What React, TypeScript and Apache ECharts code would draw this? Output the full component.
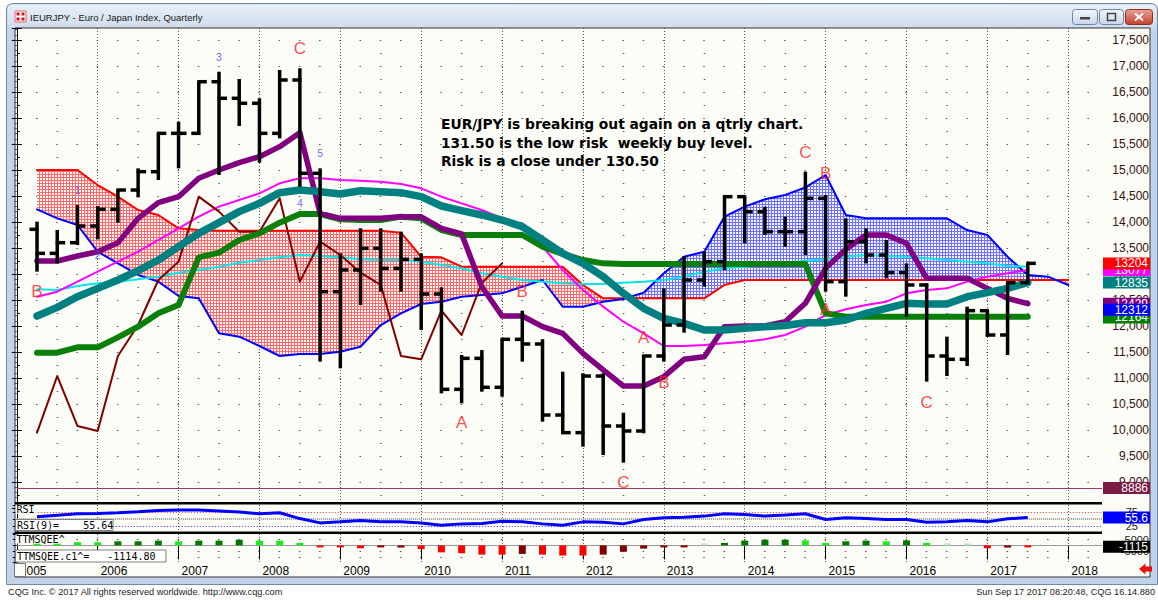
import React, { useEffect, useRef } from "react";
import * as echarts from "echarts";

// ---------- data ----------
const quarters = [
  "2005Q2","2005Q3","2005Q4",
  "2006Q1","2006Q2","2006Q3","2006Q4",
  "2007Q1","2007Q2","2007Q3","2007Q4",
  "2008Q1","2008Q2","2008Q3","2008Q4",
  "2009Q1","2009Q2","2009Q3","2009Q4",
  "2010Q1","2010Q2","2010Q3","2010Q4",
  "2011Q1","2011Q2","2011Q3","2011Q4",
  "2012Q1","2012Q2","2012Q3","2012Q4",
  "2013Q1","2013Q2","2013Q3","2013Q4",
  "2014Q1","2014Q2","2014Q3","2014Q4",
  "2015Q1","2015Q2","2015Q3","2015Q4",
  "2016Q1","2016Q2","2016Q3","2016Q4",
  "2017Q1","2017Q2","2017Q3","2017Q4",
  "2018Q1",
];
const yearLabels = ["2005","2006","2007","2008","2009","2010","2011","2012","2013","2014","2015","2016","2017","2018"];

const opens = [13859,13397,13602,13923,14243,14615,14968,15705,15705,16698,16379,16283,15705,16731,14936,12660,13077,13493,13109,13282,12615,10782,11378,10821,11744,11654,10288,9949,11038,10077,9981,11423,12019,12885,13237,14487,14199,13814,13814,14455,12853,13622,13365,13026,12789,11423,11359,12295,11827,12833];
const highs = [14006,13846,14327,14308,14628,15032,15705,15929,16698,16890,16750,16379,16923,16956,15032,13397,13878,13878,13814,13397,12744,11442,11538,11744,12295,11744,11122,11090,11090,10333,11442,12724,13346,13429,14519,14487,14295,14103,14968,14519,14070,13878,13654,13205,12821,11795,12372,12308,12833,13205];
const lows = [13045,13205,13558,13667,13987,14474,14808,15032,15673,14904,15846,15140,15609,14679,11314,11186,12404,12660,12660,11923,10705,10513,10737,10641,11314,10160,9936,9680,9519,9372,9936,11314,11872,12756,13077,13590,13750,13526,13365,12660,12564,13205,12917,12180,10930,11038,11231,11795,11442,12833];
const closes = [13397,13602,13923,14243,14615,14968,15705,15705,16698,16379,16283,15705,16731,14936,12660,13077,13493,13109,13282,12615,10782,11378,10821,11744,11654,10288,9949,11038,10077,9981,11423,12019,12885,13237,14487,14199,13814,13814,14455,12853,13622,13365,13026,12789,11423,11359,12295,11827,12833,13204];

const spanRed = [15000,15000,15000,14711,14487,14231,14135,13878,13846,13833,13833,13833,13833,13833,13833,13833,13833,13833,13795,13333,13320,13141,13141,13141,13141,13141,13141,12788,12532,12532,12532,12532,12532,12532,12788,12885,12885,12885,12885,12885,12885,12885,12885,12885,12885,12885,12885,12885,12885,12885,12885,12885];
const spanBlue = [14243,14070,13942,13429,13205,12981,12853,12577,12532,11859,11795,11615,11423,11461,11461,11506,11602,12019,12244,12423,12468,12564,12596,12628,12756,12885,12372,12372,12468,12519,12641,13013,13333,13429,14103,14295,14436,14519,14667,14904,14135,14070,14070,14070,14070,14070,13846,13750,13333,12981,12949,12788];
const cyanAvg = [12705,12692,12769,12821,12853,12897,12949,13026,13077,13141,13218,13269,13320,13365,13346,13320,13282,13269,13275,13237,13173,13109,13013,12949,12885,12853,12821,12808,12808,12833,12853,12885,12949,13045,13109,13141,13173,13218,13256,13282,13333,13365,13346,13333,13301,13269,13237,13205,13154,13141];
const magentaAvg = [12564,12660,12853,13045,13237,13429,13654,13878,14103,14295,14423,14551,14744,14840,14840,14808,14795,14776,14730,14648,14487,14359,14231,14070,13878,13526,13077,12692,12372,12083,11859,11615,11615,11634,11667,11699,11744,11827,11987,12212,12321,12404,12468,12628,12692,12724,12853,12949,13013,13077];
const purpleAvg = [13250,13250,13346,13429,13602,14070,14372,14487,14840,15000,15141,15256,15449,15718,14167,14070,14070,14070,14100,14100,13878,13769,12756,12192,12192,11987,11859,11474,11154,10846,10846,11026,11359,11410,11987,12000,12000,12083,12436,13109,13474,13750,13750,13590,12917,12917,12917,12724,12532,12429];
const tealAvg = [12192,12359,12564,12724,12885,13064,13269,13526,13782,13987,14199,14359,14564,14615,14583,14538,14602,14583,14564,14487,14308,14218,14135,14038,13910,13654,13397,13205,12949,12628,12340,12147,12051,11923,11923,11955,11987,12010,12064,12064,12115,12244,12340,12436,12423,12423,12564,12641,12724,12835];
const greenBase = [11487,11487,11590,11590,11782,11987,12244,12404,13320,13410,13654,13782,13987,14154,14154,14051,14038,14038,14103,14070,13846,13750,13750,13750,13750,13526,13385,13269,13205,13192,13192,13192,13192,13192,13192,13192,13192,13192,13192,12244,12180,12180,12180,12180,12180,12180,12180,12180,12180,12180];
const laggingSpan = [9949,11038,10077,9981,11423,12019,12885,13237,14487,14199,13814,13814,14455,12853,13622,13365,13026,12789,11423,11359,12295,11827,12833,13204];
const supportLevel = 8886;

const rsi9 = [58.2,64.2,69,70,72.5,76,80.8,82,82,78.5,75,69,72.5,52,36.8,40.4,45,40.4,40.4,36.8,28.5,33.3,34.5,42.8,40.4,33.3,28.5,40.4,39.2,33.3,48.8,54.8,57.1,60.7,69,66.7,60.7,64.3,69,48.8,54.8,52.4,48.8,48.8,39.2,40.4,45.2,40.4,51.2,55.6];
const rsiLevels = [75, 50, 25];

const ttmValues = [1400,1400,2800,2800,3600,3600,4200,3600,4200,4200,5000,4200,4200,2200,-900,-1400,-2500,-1700,-1900,-3300,-6100,-6900,-8100,-8100,-7500,-8100,-8900,-8900,-8100,-5600,-2800,-1400,-800,600,2200,4200,5000,5000,4400,2200,3600,4200,3600,4400,2200,800,800,-2500,-1900,-1115];
const ttmShade = ["lg","lg","lg","lg","dg","dg","dg","lg","dg","dg","dg","lg","lg","lg","r","r","r","dr","dr","r","r","r","r","r","dr","r","r","r","dr","dr","dr","dr","dr","pg","dg","dg","dg","dg","lg","lg","dg","dg","lg","dg","lg","pg","pg","r","dr","r"];

const waveNumbers: [string, number, string][] = [
  ["2005Q4", 14615, "1"], ["2006Q1", 13365, "2"], ["2007Q3", 17173, "3"], ["2008Q3", 14365, "4"], ["2008Q4", 15327, "5"],
];
const waveLetters: [string, number, string][] = [
  ["2005Q2", 12654, "B"], ["2008Q3", 17346, "C"], ["2010Q3", 10135, "A"], ["2011Q2", 12654, "B"],
  ["2012Q3", 9000, "C"], ["2012Q4", 11788, "A"], ["2013Q1", 10923, "B"], ["2014Q4", 15327, "C"],
  ["2015Q1", 14942, "B"], ["2015Q1", 12308, "A"], ["2016Q2", 10538, "C"],
];
const lastValueTags: [string, number, string][] = [
  ["magenta", 13077, "13077"], ["red", 13204, "13204"], ["teal", 12835, "12835"], ["purple", 12429, "12429"],
  ["green", 12164, "12164"], ["blue", 12312, "12312"], ["level", 8886, "8886"], ["rsi", 55.6, "55.6"], ["ttm", -1115, "-1115"],
];
const noteLines = [
  "EUR/JPY is breaking out again on a qtrly chart.",
  "131.50 is the low risk  weekly buy level.",
  "Risk is a close under 130.50",
];

// ---------- helpers ----------
const qPos = (label: string) => (Number(label.slice(0, 4)) - 2005) * 4 + Number(label.slice(5)) - 1;
const pairs = (vals: number[]) => vals.map((v, i) => [qPos(quarters[i]), v]);

const FONT = '"Liberation Sans", Arial, sans-serif';
const PLOT_L = 16.8;
const PLOT_W = 1102 - 16.8;
const X_MAX = 53.67;
const BG = "#fdfdf8";

const shadeColor: Record<string, string> = { lg: "#1ee81e", dg: "#007800", r: "#ff0000", dr: "#800000", pg: "#b8f0b8" };
const tagColor: Record<string, string> = {
  magenta: "#ff00ff", red: "#ff0000", teal: "#008080", purple: "#800080", green: "#008000",
  blue: "#0000ff", level: "#7d1a45", rsi: "#0000ff", ttm: "#000000",
};

function makePattern(line: string, cell: string) {
  const c = document.createElement("canvas");
  c.width = 3; c.height = 3;
  const g = c.getContext("2d")!;
  g.fillStyle = cell; g.fillRect(0, 0, 3, 3);
  g.fillStyle = line; g.fillRect(0, 0, 3, 1); g.fillRect(0, 0, 1, 3);
  return { image: c.toDataURL(), repeat: "repeat", imageWidth: 3, imageHeight: 3 };
}

function xAxisFor(grid: number, bottom: boolean) {
  return {
    type: "value", gridIndex: grid, min: 0, max: X_MAX, interval: 4,
    axisLine: { show: bottom, lineStyle: { color: "#000", width: 1 } },
    axisTick: { show: bottom, length: 14, lineStyle: { color: "#000" } },
    axisLabel: {
      show: bottom, showMaxLabel: false,
      formatter: (v: number) => (Math.abs(v / 4 - Math.round(v / 4)) < 1e-6 ? yearLabels[Math.round(v / 4)] ?? "" : ""),
      align: "left", padding: [0, 0, 0, 3], margin: 2, fontSize: 12, color: "#000", fontFamily: FONT,
    },
    splitLine: { show: true, showMinLine: false, showMaxLine: false, lineStyle: { type: [1, 2], color: "#555", width: 1 } },
  };
}

function buildOption(redPat: any, bluePat: any) {
  const cloudRender = (_p: any, api: any) => {
    const pts: number[][] = [];
    for (let i = 0; i < spanRed.length; i++) {
      const q = qPos(quarters[i]);
      const r = spanRed[i], b = spanBlue[i];
      if (i > 0) {
        const pq = qPos(quarters[i - 1]);
        const pr = spanRed[i - 1], pb = spanBlue[i - 1];
        const d0 = pr - pb, d1 = r - b;
        if (d0 * d1 < 0) {
          const t = d0 / (d0 - d1);
          pts.push([pq + t * (q - pq), pr + t * (r - pr), pb + t * (b - pb)]);
        }
      }
      pts.push([q, r, b]);
    }
    const low = pts.map((p) => api.coord([p[0], Math.min(p[1], p[2])])).reverse();
    const redTop = pts.map((p) => api.coord([p[0], p[1]]));
    const blueTop = pts.map((p) => api.coord([p[0], p[2]]));
    return {
      type: "group",
      children: [
        { type: "polygon", shape: { points: redTop.concat(low) }, style: { fill: redPat, stroke: null } },
        { type: "polygon", shape: { points: blueTop.concat(low) }, style: { fill: bluePat, stroke: null } },
      ],
    };
  };

  const ohlcRender = (_p: any, api: any) => {
    const q = api.value(0);
    const o = api.coord([q, api.value(1)]);
    const h = api.coord([q, api.value(2)]);
    const l = api.coord([q, api.value(3)]);
    const c = api.coord([q, api.value(4)]);
    const st = { stroke: "#000", lineWidth: 3.5 };
    return {
      type: "group",
      children: [
        { type: "line", shape: { x1: h[0], y1: h[1], x2: l[0], y2: l[1] }, style: st },
        { type: "line", shape: { x1: o[0] - 7.5, y1: o[1], x2: o[0] + 1.5, y2: o[1] }, style: st },
        { type: "line", shape: { x1: c[0] - 1.5, y1: c[1], x2: c[0] + 8, y2: c[1] }, style: st },
      ],
    };
  };

  const line = (name: string, vals: number[], color: string, width: number, z: number, extra: any = {}) => ({
    type: "line", name, xAxisIndex: 0, yAxisIndex: 0, data: pairs(vals), symbol: "none", showSymbol: false,
    lineStyle: { color, width, cap: "round", join: "round" }, z, silent: true, ...extra,
  });

  return {
    animation: false,
    textStyle: { fontFamily: FONT },
    grid: [
      { left: PLOT_L, top: 28, width: PLOT_W, height: 480, outerBoundsMode: "none" },
      { left: PLOT_L, top: 505, width: PLOT_W, height: 28.3, outerBoundsMode: "none" },
      { left: PLOT_L, top: 534, width: PLOT_W, height: 28.5, outerBoundsMode: "none" },
    ],
    xAxis: [xAxisFor(0, false), xAxisFor(1, false), xAxisFor(2, true)],
    yAxis: [
      {
        type: "value", gridIndex: 0, position: "right", min: 8500, max: 17730.8, interval: 500,
        axisLine: { show: true, lineStyle: { color: "#000", width: 1 } },
        axisTick: { show: true, inside: true, length: 5, lineStyle: { color: "#000" } },
        minorTick: { show: true, splitNumber: 5, length: 2, lineStyle: { color: "#444" } },
        axisLabel: { showMinLabel: false, showMaxLabel: false, align: "right", margin: 47, fontSize: 12, color: "#3a1010", fontFamily: FONT },
        splitLine: { show: true, showMinLine: false, showMaxLine: false, lineStyle: { type: [1.5, 18.72], dashOffset: 0.75, color: "#555", width: 1 } },
      },
      {
        type: "value", gridIndex: 0, position: "left", min: 8500, max: 17730.8, interval: 500,
        axisLine: { show: false },
        axisTick: { show: true, inside: true, length: 5, lineStyle: { color: "#000" } },
        minorTick: { show: true, splitNumber: 2, length: 3, lineStyle: { color: "#000" } },
        axisLabel: { show: false },
        splitLine: { show: false },
        minorSplitLine: { show: true, lineStyle: { type: [1.5, 79.38], dashOffset: 41.19, color: "#555", width: 1 } },
      },
      {
        type: "value", gridIndex: 1, position: "right", min: 0, max: 100, interval: 25,
        axisLine: { show: true, lineStyle: { color: "#000" } },
        axisTick: { show: true, inside: true, length: 4, lineStyle: { color: "#000" } },
        axisLabel: { formatter: (v: number) => (v === 25 || v === 75 ? String(v) : ""), align: "right", margin: 36, fontSize: 11, color: "#222", fontFamily: FONT },
        splitLine: { show: false },
      },
      {
        type: "value", gridIndex: 2, position: "right", min: -15000, max: 10000, interval: 5000,
        axisLine: { show: true, lineStyle: { color: "#000" } },
        axisTick: { show: true, inside: true, length: 4, lineStyle: { color: "#000" } },
        axisLabel: { formatter: (v: number) => (v === 5000 || v === -5000 ? String(v) : ""), align: "right", margin: 47, fontSize: 11, color: "#222", fontFamily: FONT },
        splitLine: { show: true, showMinLine: false, showMaxLine: false, lineStyle: { type: [1.5, 18.72], dashOffset: 0.75, color: "#555", width: 1 } },
      },
    ],
    series: [
      {
        type: "custom", name: "cloud", xAxisIndex: 0, yAxisIndex: 0, data: [[26, 13000]],
        encode: { x: 0, y: 1 }, renderItem: cloudRender, z: 1, silent: true, clip: true,
      },
      line("spanRed", spanRed, "#ff0000", 2, 3),
      line("spanBlue", spanBlue, "#0000ff", 2, 3),
      line("cyan", cyanAvg, "#00e8e8", 2, 4),
      line("magenta", magentaAvg, "#ff00ff", 2, 4),
      line("lagging", laggingSpan, "#800000", 2, 5, {
        markLine: {
          silent: true, symbol: ["none", "none"], label: { show: false },
          lineStyle: { color: "#a03a6a", width: 1, type: "solid" },
          data: [{ yAxis: supportLevel }],
        },
      }),
      line("green", greenBase, "#0a800a", 6, 6),
      line("purple", purpleAvg, "#800080", 5.5, 7),
      line("teal", tealAvg, "#008080", 7.5, 8),
      {
        type: "custom", name: "ohlc", xAxisIndex: 0, yAxisIndex: 0,
        data: opens.map((o, i) => [qPos(quarters[i]), o, highs[i], lows[i], closes[i]]),
        encode: { x: 0, y: [1, 2, 3, 4] }, renderItem: ohlcRender, z: 10, silent: true,
      },
      {
        type: "scatter", name: "waveNumbers", xAxisIndex: 0, yAxisIndex: 0,
        data: waveNumbers.map(([q, v, t]) => [qPos(q), v, t]),
        symbolSize: 1, itemStyle: { color: "rgba(0,0,0,0)" }, z: 12, silent: true,
        label: { show: true, position: "inside", formatter: (p: any) => p.data[2], color: "#4646ff", fontSize: 10.5, fontFamily: FONT },
      },
      {
        type: "scatter", name: "waveLetters", xAxisIndex: 0, yAxisIndex: 0,
        data: waveLetters.map(([q, v, t]) => [qPos(q), v, t]),
        symbolSize: 1, itemStyle: { color: "rgba(0,0,0,0)" }, z: 12, silent: true,
        label: { show: true, position: "inside", formatter: (p: any) => p.data[2], color: "#ff2020", fontSize: 17, fontFamily: FONT },
      },
      {
        type: "line", name: "rsi", xAxisIndex: 1, yAxisIndex: 2, data: pairs(rsi9), symbol: "none",
        lineStyle: { color: "#0000ff", width: 3 }, z: 5, silent: true,
        markLine: {
          silent: true, symbol: ["none", "none"], label: { show: false },
          data: rsiLevels.map((lv, i) => ({
            yAxis: lv,
            lineStyle: i === 0 ? { color: "#ff3030", type: [1, 2], width: 1 } : i === 1 ? { color: "#999", type: [1, 1], width: 2 } : { color: "#3030ff", type: [1, 2], width: 1 },
          })),
        },
      },
      {
        type: "bar", name: "ttm", xAxisIndex: 2, yAxisIndex: 3, barWidth: 7, barMinHeight: 2, z: 5, silent: true,
        data: ttmValues.map((v, i) => ({ value: [qPos(quarters[i]), v], itemStyle: { color: shadeColor[ttmShade[i]] } })),
        markLine: {
          silent: true, symbol: ["none", "none"], label: { show: false },
          lineStyle: { color: "#999", width: 1, type: "solid" },
          data: [{ yAxis: 0 }],
        },
      },
    ],
  };
}

function chromeElements() {
  const grad = (a: string, b: string) =>
    new echarts.graphic.LinearGradient(0, 0, 0, 1, [{ offset: 0, color: a }, { offset: 1, color: b }]);
  const mono = '10px "DejaVu Sans Mono", monospace';
  const els: any[] = [
    { type: "rect", shape: { x: 6.5, y: 3.5, width: 1151, height: 581, r: [6, 6, 0, 0] }, style: { fill: "#c3d4ea", stroke: "#7089ab", lineWidth: 1 }, z: -100, silent: true },
    { type: "rect", shape: { x: 7.5, y: 4.5, width: 1149, height: 23, r: [5, 5, 0, 0] }, style: { fill: grad("#eaf0f8", "#cfdcee") }, z: -99, silent: true },
    { type: "rect", shape: { x: 15, y: 28, width: 1135, height: 549 }, style: { fill: BG, stroke: "#333", lineWidth: 1 }, z: -98, silent: true },
    // title icon
    { type: "rect", shape: { x: 15, y: 11, width: 11, height: 11 }, style: { fill: "#fff", stroke: "#d66" }, z: 5 },
    { type: "rect", shape: { x: 16.5, y: 12.5, width: 3, height: 3 }, style: { fill: "#d11" }, z: 6 },
    { type: "rect", shape: { x: 21.5, y: 12.5, width: 3, height: 3 }, style: { fill: "#d11" }, z: 6 },
    { type: "rect", shape: { x: 16.5, y: 17.5, width: 3, height: 3 }, style: { fill: "#d11" }, z: 6 },
    { type: "rect", shape: { x: 21.5, y: 17.5, width: 3, height: 3 }, style: { fill: "#d11" }, z: 6 },
    { type: "text", x: 30, y: 17, style: { text: "IEURJPY - Euro / Japan Index, Quarterly", font: `9.5px ${FONT}`, fill: "#1a1a1a", verticalAlign: "middle", textVerticalAlign: "middle" }, z: 5 },
    // window buttons
    { type: "rect", shape: { x: 1072.5, y: 9.5, width: 25, height: 15, r: 3 }, style: { fill: grad("#f3f6fb", "#c9d6e8"), stroke: "#6d84a6" }, z: 5 },
    { type: "rect", shape: { x: 1080, y: 17, width: 10, height: 2.5 }, style: { fill: "#444" }, z: 6 },
    { type: "rect", shape: { x: 1099.5, y: 9.5, width: 24, height: 15, r: 3 }, style: { fill: grad("#f3f6fb", "#c9d6e8"), stroke: "#6d84a6" }, z: 5 },
    { type: "rect", shape: { x: 1107.5, y: 13.5, width: 8, height: 7 }, style: { fill: "none", stroke: "#444", lineWidth: 1.5 }, z: 6 },
    { type: "rect", shape: { x: 1125.5, y: 9.5, width: 27, height: 15, r: 3 }, style: { fill: grad("#e8a296", "#c4412d"), stroke: "#8a2f22" }, z: 5 },
    { type: "line", shape: { x1: 1135, y1: 13.5, x2: 1143, y2: 20.5 }, style: { stroke: "#fff", lineWidth: 2 }, z: 6 },
    { type: "line", shape: { x1: 1143, y1: 13.5, x2: 1135, y2: 20.5 }, style: { stroke: "#fff", lineWidth: 2 }, z: 6 },
    // panel separators
    { type: "rect", shape: { x: 15, y: 502, width: 1087, height: 2.5 }, style: { fill: "#000" }, z: 40 },
    { type: "rect", shape: { x: 15, y: 531.5, width: 1087, height: 2.5 }, style: { fill: "#000" }, z: 40 },
    // RSI panel captions
    { type: "rect", shape: { x: 15.5, y: 505, width: 20, height: 9 }, style: { fill: BG }, z: 41 },
    { type: "text", x: 16.5, y: 509.5, style: { text: "RSI", font: mono, fill: "#000", verticalAlign: "middle", textVerticalAlign: "middle" }, z: 42 },
    { type: "rect", shape: { x: 15.5, y: 519.5, width: 97.5, height: 11 }, style: { fill: "#fff", stroke: "#808080" }, z: 41 },
    { type: "text", x: 17, y: 525, style: { text: "RSI(9)=    55.64", font: mono, fill: "#000", verticalAlign: "middle", textVerticalAlign: "middle" }, z: 42 },
    // TTM panel captions
    { type: "rect", shape: { x: 15.5, y: 534.5, width: 54, height: 9 }, style: { fill: BG }, z: 41 },
    { type: "text", x: 16.5, y: 539, style: { text: "TTMSQEE^", font: mono, fill: "#000", verticalAlign: "middle", textVerticalAlign: "middle" }, z: 42 },
    { type: "rect", shape: { x: 15.5, y: 550, width: 150.5, height: 12 }, style: { fill: "#fff", stroke: "#808080" }, z: 41 },
    { type: "text", x: 17, y: 556, style: { text: "TTMSQEE.c1^=   -1114.80", font: mono, fill: "#000", verticalAlign: "middle", textVerticalAlign: "middle" }, z: 42 },
    // small box at the start of the date axis
    { type: "rect", shape: { x: 14.5, y: 563.5, width: 11, height: 13 }, style: { fill: BG, stroke: "#777" }, z: 41 },
    // commentary
    { type: "text", x: 441, y: 115, style: { text: noteLines.join("\n"), font: 'bold 13.8px "DejaVu Sans", sans-serif', fill: "#000", lineHeight: 18.5, verticalAlign: "top", textVerticalAlign: "top" }, z: 45 },
    // red arrow
    { type: "polygon", shape: { points: [[1139, 569], [1145.5, 563.5], [1145.5, 566.5], [1152, 566.5], [1152, 571.5], [1145.5, 571.5], [1145.5, 574.5]] }, style: { fill: "#e81010" }, z: 45 },
    // footer
    { type: "text", x: 8, y: 592, style: { text: "CQG Inc. © 2017 All rights reserved worldwide. http://www.cqg.com", font: `9.2px ${FONT}`, fill: "#222", verticalAlign: "middle", textVerticalAlign: "middle" }, z: 45 },
    { type: "text", x: 1155, y: 592, style: { text: "Sun Sep 17 2017 08:20:48, CQG 16.14.880", font: `9.2px ${FONT}`, fill: "#222", align: "right", textAlign: "right", verticalAlign: "middle", textVerticalAlign: "middle" }, z: 45 },
  ];
  return els;
}

function tagElements(chart: any) {
  const els: any[] = [];
  lastValueTags.forEach(([key, value, text], i) => {
    const axis = key === "rsi" ? 2 : key === "ttm" ? 3 : 0;
    const y = chart.convertToPixel({ yAxisIndex: axis }, value);
    els.push({ type: "rect", shape: { x: 1103, y: y - 6, width: 47, height: 12 }, style: { fill: tagColor[key] }, z: 60 + i * 2 });
    els.push({ type: "text", x: 1148, y, style: { text, font: `12px ${FONT}`, fill: "#fff", align: "right", textAlign: "right", verticalAlign: "middle", textVerticalAlign: "middle" }, z: 61 + i * 2 });
  });
  return els;
}

export default function App() {
  const ref = useRef<HTMLDivElement>(null);
  useEffect(() => {
    if (!ref.current) return;
    const chart = echarts.init(ref.current, null, { renderer: "svg" });
    const redPat = makePattern("#ff6a6a", "#fff4f4");
    const bluePat = makePattern("#7070ff", "#f4f4ff");
    chart.setOption(buildOption(redPat, bluePat) as any);
    chart.setOption({ graphic: { elements: [...chromeElements(), ...tagElements(chart)] } } as any);
    return () => chart.dispose();
  }, []);
  return (
    <div
      ref={ref}
      style={{ position: "fixed", left: 0, top: 0, width: 1158, height: 600, background: "#fff" }}
    />
  );
}
